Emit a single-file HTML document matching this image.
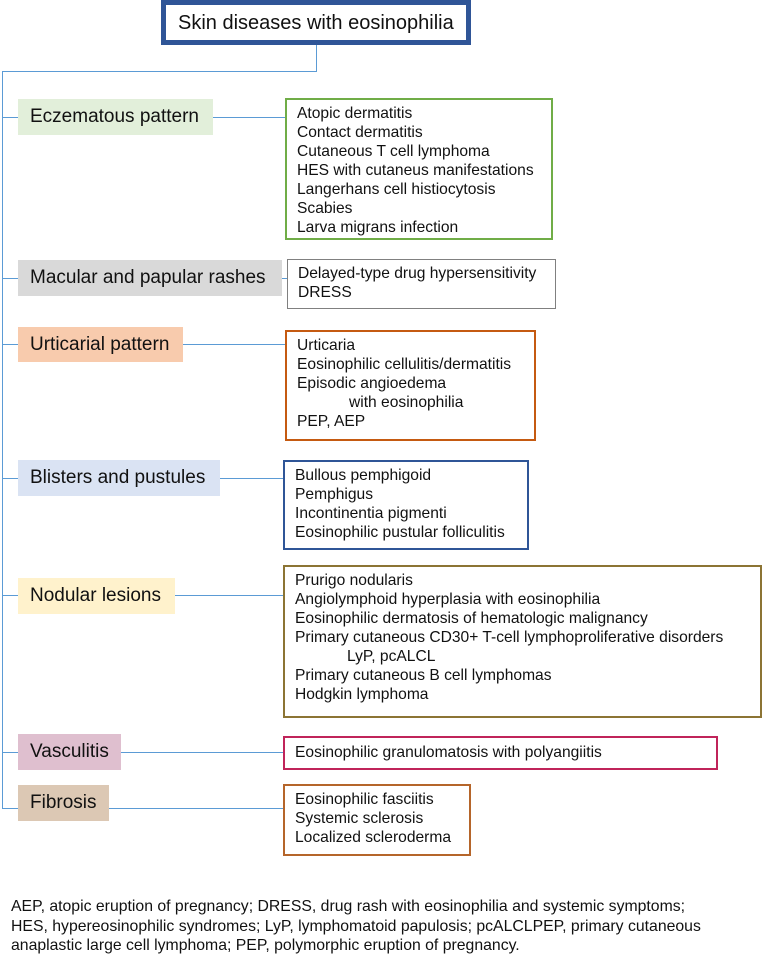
<!DOCTYPE html>
<html><head><style>
body{margin:0;width:762px;height:954px;background:#fff;position:relative;font-family:"Liberation Sans",sans-serif;color:#111;overflow:hidden}
.a{position:absolute;box-sizing:border-box}
.lab{font-size:19px;padding-left:12px;display:flex;align-items:center;white-space:nowrap}
.box{background:#fff;border:2px solid;font-size:15.6px;line-height:19px;padding:4px 10px;white-space:nowrap}
.h{position:absolute;height:1px;background:#5b9bd5}
.v{position:absolute;width:1px;background:#5b9bd5}
</style></head><body>
<div class="a" style="left:161px;top:0;width:310px;height:45px;border:5px solid #2f5597;font-size:20px;padding:7px 0 0 12px">Skin diseases with eosinophilia</div>
<div class="v" style="left:316px;top:45px;height:27px"></div>
<div class="h" style="left:2px;top:71px;width:315px"></div>
<div class="v" style="left:2px;top:71px;height:738px"></div>

<div class="h" style="left:2px;top:117px;width:284px"></div>
<div class="a lab" style="left:18px;top:99px;width:195px;height:36px;background:#e2efda">Eczematous pattern</div>
<div class="a box" style="left:285px;top:98px;width:268px;height:142px;border-color:#70ad47">Atopic dermatitis<br>Contact dermatitis<br>Cutaneous T cell lymphoma<br>HES with cutaneus manifestations<br>Langerhans cell histiocytosis<br>Scabies<br>Larva migrans infection</div>

<div class="h" style="left:2px;top:278px;width:285px"></div>
<div class="a lab" style="left:18px;top:260px;width:264px;height:36px;background:#d9d9d9">Macular and papular rashes</div>
<div class="a box" style="left:287px;top:259px;width:269px;height:50px;border-color:#808080;border-width:1.5px">Delayed-type drug hypersensitivity<br>DRESS</div>

<div class="h" style="left:2px;top:344px;width:284px"></div>
<div class="a lab" style="left:18px;top:327px;width:165px;height:35px;background:#f8cbad">Urticarial pattern</div>
<div class="a box" style="left:285px;top:330px;width:251px;height:111px;border-color:#c55a11">Urticaria<br>Eosinophilic cellulitis/dermatitis<br>Episodic angioedema<br>&nbsp;&nbsp;&nbsp;&nbsp;&nbsp;&nbsp;&nbsp;&nbsp;&nbsp;&nbsp;&nbsp;&nbsp;with eosinophilia<br>PEP, AEP</div>

<div class="h" style="left:2px;top:478px;width:282px"></div>
<div class="a lab" style="left:18px;top:460px;width:202px;height:36px;background:#dae3f3">Blisters and pustules</div>
<div class="a box" style="left:283px;top:460px;width:246px;height:90px;border-color:#2f5597">Bullous pemphigoid<br>Pemphigus<br>Incontinentia pigmenti<br>Eosinophilic pustular folliculitis</div>

<div class="h" style="left:2px;top:595px;width:282px"></div>
<div class="a lab" style="left:18px;top:578px;width:157px;height:36px;background:#fff2cc">Nodular lesions</div>
<div class="a box" style="left:283px;top:565px;width:479px;height:153px;border-color:#8c7434">Prurigo nodularis<br>Angiolymphoid hyperplasia with eosinophilia<br>Eosinophilic dermatosis of hematologic malignancy<br>Primary cutaneous CD30+ T-cell lymphoproliferative disorders<br>&nbsp;&nbsp;&nbsp;&nbsp;&nbsp;&nbsp;&nbsp;&nbsp;&nbsp;&nbsp;&nbsp;&nbsp;LyP, pcALCL<br>Primary cutaneous B cell lymphomas<br>Hodgkin lymphoma</div>

<div class="h" style="left:2px;top:752px;width:282px"></div>
<div class="a lab" style="left:18px;top:734px;width:103px;height:36px;background:#dfbfcf">Vasculitis</div>
<div class="a box" style="left:283px;top:736px;width:435px;height:34px;border-color:#c0245a;padding-top:5px">Eosinophilic granulomatosis with polyangiitis</div>

<div class="h" style="left:2px;top:808px;width:282px"></div>
<div class="a lab" style="left:18px;top:785px;width:91px;height:36px;background:#dcc8b4">Fibrosis</div>
<div class="a box" style="left:283px;top:784px;width:188px;height:72px;border-color:#b5652a">Eosinophilic fasciitis<br>Systemic sclerosis<br>Localized scleroderma</div>

<div class="a" style="left:11px;top:897px;width:751px;font-size:15.8px;line-height:19.5px;white-space:nowrap">AEP, atopic eruption of pregnancy; DRESS, drug rash with eosinophilia and systemic symptoms;<br>HES, hypereosinophilic syndromes; LyP, lymphomatoid papulosis; pcALCLPEP, primary cutaneous<br>anaplastic large cell lymphoma; PEP, polymorphic eruption of pregnancy.</div>
</body></html>
